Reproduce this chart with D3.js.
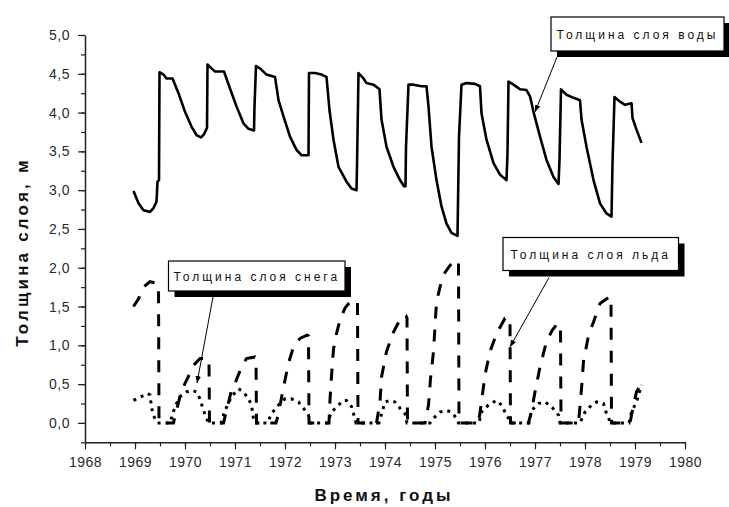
<!DOCTYPE html>
<html><head><meta charset="utf-8">
<script src="https://cdn.jsdelivr.net/npm/d3@7"></script>
<style>
html,body{margin:0;padding:0;background:#fff;}
svg{display:block;}
</style></head>
<body>
<svg id="chart" width="729" height="507"></svg>
<script>
// ---- DATA ----
const xTickYears = [1968,1969,1970,1971,1972,1973,1974,1975,1976,1977,1978,1979,1980];
const yTickValues = [0,0.5,1,1.5,2,2.5,3,3.5,4,4.5,5];
const yTickLabels = ["0,0","0,5","1,0","1,5","2,0","2,5","3,0","3,5","4,0","4,5","5,0"];
const seriesNames = ["Толщина слоя воды","Толщина слоя снега","Толщина слоя льда"];
const xTitle = "Время, годы";
const yTitle = "Толщина слоя, м";

const water = [[1968.97,2.99],[1969.07,2.83],[1969.17,2.74],[1969.30,2.72],[1969.37,2.77],[1969.43,2.85],[1969.45,3.11],[1969.48,3.13],[1969.49,4.52],[1969.57,4.49],[1969.63,4.44],[1969.75,4.44],[1969.87,4.25],[1970.0,4.01],[1970.13,3.82],[1970.23,3.71],[1970.32,3.68],[1970.38,3.72],[1970.43,3.79],[1970.44,3.80],[1970.45,4.62],[1970.53,4.57],[1970.6,4.53],[1970.78,4.53],[1970.9,4.31],[1971.03,4.08],[1971.17,3.86],[1971.27,3.79],[1971.38,3.77],[1971.39,4.08],[1971.42,4.60],[1971.5,4.57],[1971.63,4.49],[1971.8,4.46],[1971.87,4.16],[1971.97,3.95],[1972.1,3.69],[1972.23,3.52],[1972.33,3.45],[1972.47,3.45],[1972.48,4.51],[1972.6,4.51],[1972.73,4.49],[1972.83,4.46],[1972.89,4.03],[1972.97,3.65],[1973.07,3.30],[1973.23,3.11],[1973.33,3.02],[1973.43,3.0],[1973.44,3.30],[1973.47,4.51],[1973.57,4.44],[1973.63,4.38],[1973.77,4.36],[1973.89,4.30],[1973.93,3.91],[1974.03,3.56],[1974.17,3.30],[1974.3,3.13],[1974.38,3.05],[1974.41,3.05],[1974.42,3.56],[1974.47,4.36],[1974.57,4.36],[1974.73,4.34],[1974.83,4.34],[1974.87,4.08],[1974.93,3.56],[1975.03,3.13],[1975.13,2.79],[1975.23,2.57],[1975.33,2.45],[1975.45,2.41],[1975.48,3.69],[1975.53,4.36],[1975.63,4.38],[1975.8,4.37],[1975.9,4.34],[1975.93,3.99],[1976.03,3.65],[1976.17,3.35],[1976.3,3.20],[1976.43,3.13],[1976.45,3.48],[1976.47,4.40],[1976.57,4.36],[1976.7,4.30],[1976.83,4.29],[1976.9,4.21],[1976.97,4.01],[1977.1,3.69],[1977.23,3.39],[1977.37,3.17],[1977.47,3.08],[1977.49,3.39],[1977.52,4.30],[1977.63,4.23],[1977.77,4.19],[1977.9,4.16],[1977.93,3.91],[1978.03,3.56],[1978.17,3.13],[1978.3,2.83],[1978.43,2.70],[1978.53,2.66],[1978.55,3.35],[1978.59,4.20],[1978.7,4.14],[1978.8,4.10],[1978.93,4.12],[1978.95,3.93],[1979.03,3.78],[1979.13,3.61]];

const ice = [[1968.97,1.50],[1969.07,1.60],[1969.17,1.75],[1969.3,1.82],[1969.43,1.80],[1969.47,1.78],[1969.48,0.03],[1969.5,0],[1969.77,0],[1969.83,0.16],[1969.9,0.34],[1970.0,0.51],[1970.1,0.64],[1970.17,0.74],[1970.3,0.83],[1970.45,0.83],[1970.48,0.80],[1970.49,0],[1970.77,0],[1970.83,0.16],[1970.93,0.42],[1971.0,0.51],[1971.13,0.72],[1971.23,0.83],[1971.4,0.85],[1971.42,0.84],[1971.43,0],[1971.82,0],[1971.87,0.12],[1971.97,0.46],[1972.07,0.77],[1972.17,0.98],[1972.3,1.09],[1972.44,1.13],[1972.47,1.12],[1972.48,0],[1972.88,0],[1972.9,0.3],[1972.93,0.6],[1972.97,0.95],[1973.03,1.15],[1973.1,1.33],[1973.2,1.48],[1973.3,1.56],[1973.43,1.58],[1973.45,1.55],[1973.46,0],[1973.83,0],[1973.9,0.27],[1973.93,0.59],[1974.03,0.92],[1974.17,1.17],[1974.33,1.37],[1974.42,1.38],[1974.44,1.35],[1974.45,0],[1974.8,0],[1974.87,0.23],[1974.91,0.57],[1974.97,0.92],[1975.03,1.56],[1975.1,1.75],[1975.17,1.91],[1975.3,2.03],[1975.43,2.10],[1975.47,2.08],[1975.48,0],[1975.87,0],[1975.93,0.27],[1976.0,0.62],[1976.1,0.92],[1976.23,1.15],[1976.4,1.35],[1976.48,1.36],[1976.5,1.32],[1976.51,0],[1976.87,0],[1976.93,0.15],[1977.0,0.40],[1977.1,0.72],[1977.23,1.05],[1977.35,1.2],[1977.45,1.28],[1977.51,1.26],[1977.52,0],[1977.87,0],[1977.93,0.44],[1977.97,0.79],[1978.07,1.13],[1978.17,1.30],[1978.3,1.54],[1978.5,1.63],[1978.52,1.62],[1978.53,0],[1978.9,0],[1978.97,0.23],[1979.03,0.40],[1979.13,0.51]];

const snow = [[1968.97,0.29],[1969.1,0.33],[1969.25,0.38],[1969.3,0.36],[1969.33,0.2],[1969.37,0.10],[1969.42,0.02],[1969.45,0],[1969.7,0],[1969.8,0.21],[1969.9,0.34],[1970.03,0.40],[1970.13,0.42],[1970.23,0.40],[1970.3,0.31],[1970.37,0.16],[1970.45,0.03],[1970.47,0],[1970.72,0],[1970.8,0.16],[1970.93,0.34],[1971.07,0.44],[1971.17,0.40],[1971.27,0.31],[1971.33,0.23],[1971.37,0.05],[1971.4,0],[1971.65,0],[1971.73,0.12],[1971.87,0.23],[1972.0,0.31],[1972.13,0.31],[1972.27,0.27],[1972.37,0.19],[1972.47,0.10],[1972.5,0],[1972.85,0],[1972.93,0.14],[1973.07,0.23],[1973.17,0.29],[1973.23,0.29],[1973.33,0.21],[1973.37,0.12],[1973.42,0],[1973.88,0],[1974.0,0.27],[1974.1,0.29],[1974.2,0.27],[1974.3,0.19],[1974.4,0.12],[1974.44,0],[1974.9,0],[1974.97,0.06],[1975.1,0.14],[1975.23,0.16],[1975.33,0.14],[1975.43,0.06],[1975.47,0],[1975.88,0],[1975.93,0.14],[1976.07,0.23],[1976.23,0.29],[1976.33,0.23],[1976.4,0.14],[1976.47,0.06],[1976.5,0],[1976.88,0],[1976.93,0.16],[1977.07,0.25],[1977.2,0.27],[1977.33,0.21],[1977.47,0.10],[1977.5,0],[1977.9,0],[1978.0,0.14],[1978.13,0.23],[1978.23,0.27],[1978.37,0.25],[1978.43,0.12],[1978.48,0.05],[1978.5,0],[1978.88,0],[1978.93,0.14],[1979.03,0.27],[1979.13,0.49]];

// ---- LAYOUT ----
const svg = d3.select("#chart");
svg.append("rect").attr("width",729).attr("height",507).attr("fill","#fff");
const x = d3.scaleLinear().domain([1968,1980]).range([85,685]);
const y = d3.scaleLinear().domain([-0.25,5]).range([442.3,35]);
const minorX = d3.range(1968,1980.01,0.5);
const minorY = d3.range(-0.25,5.01,0.25);
const fontFam = "'Liberation Sans', Arial, sans-serif";

// minor ticks
svg.append("g").attr("transform",`translate(0,${y(-0.25)})`)
  .call(d3.axisBottom(x).tickValues(minorX).tickSize(4).tickFormat(""))
  .call(g=>g.select(".domain").remove())
  .call(g=>g.selectAll("line").attr("stroke","#222").attr("stroke-width",1.2));
svg.append("g").attr("transform",`translate(${x(1968)},0)`)
  .call(d3.axisLeft(y).tickValues(minorY).tickSize(4).tickFormat(""))
  .call(g=>g.select(".domain").remove())
  .call(g=>g.selectAll("line").attr("stroke","#222").attr("stroke-width",1.2));

// major axes
const xAxis = svg.append("g").attr("transform",`translate(0,${y(-0.25)})`)
  .call(d3.axisBottom(x).tickValues(xTickYears).tickSize(7).tickPadding(8).tickSizeOuter(0).tickFormat(d=>String(d)));
const yAxis = svg.append("g").attr("transform",`translate(${x(1968)},0)`)
  .call(d3.axisLeft(y).tickValues(yTickValues).tickSize(7).tickPadding(8).tickSizeOuter(0)
    .tickFormat((d,i)=>yTickLabels[i]));
[xAxis,yAxis].forEach(g=>{
  g.select(".domain").attr("stroke","#222").attr("stroke-width",1.5);
  g.selectAll(".tick line").attr("stroke","#222").attr("stroke-width",1.2);
  g.selectAll(".tick text").attr("fill","#2a2a2a").style("font-family",fontFam)
    .style("font-size","14px").style("letter-spacing","0.5px");
});

// axis titles
svg.append("text").attr("x",384).attr("y",501).attr("text-anchor","middle")
  .style("font-family",fontFam).style("font-size","17px").style("font-weight","bold")
  .style("letter-spacing","3px").attr("fill","#111").text(xTitle);
svg.append("text").attr("transform","translate(28,252) rotate(-90)").attr("text-anchor","middle")
  .style("font-family",fontFam).style("font-size","17px").style("font-weight","bold")
  .style("letter-spacing","3.2px").attr("fill","#111").text(yTitle);

// lines
const line = d3.line().x(d=>x(d[0])).y(d=>y(d[1]));
svg.append("path").datum(snow).attr("d",line).attr("fill","none").attr("stroke","#000")
  .attr("stroke-width",3).attr("stroke-dasharray","3,5");
svg.append("path").datum(ice).attr("d",line).attr("fill","none").attr("stroke","#000")
  .attr("stroke-width",3).attr("stroke-dasharray","12,11");
svg.append("path").datum(water).attr("d",line).attr("fill","none").attr("stroke","#000")
  .attr("stroke-width",2.6).attr("stroke-linejoin","round");

// callouts
svg.append("defs").append("marker").attr("id","arr").attr("viewBox","0 0 10 10")
  .attr("refX",10).attr("refY",5).attr("markerWidth",7).attr("markerHeight",7)
  .attr("orient","auto").append("path").attr("d","M0,1 L10,5 L0,9 Z").attr("fill","#000");

const callouts = [
  {name:seriesNames[0], box:[551,17,173,34], from:[557,57], to:[535,112]},
  {name:seriesNames[1], box:[168.5,261,176.5,30], from:[213,297], to:[197,383]},
  {name:seriesNames[2], box:[503,237.5,175.5,33], from:[549,277.5], to:[510,347]}
];
callouts.forEach(c=>{
  const [bx,by,bw,bh] = c.box;
  svg.append("line").attr("x1",c.from[0]).attr("y1",c.from[1]).attr("x2",c.to[0]).attr("y2",c.to[1])
    .attr("stroke","#000").attr("stroke-width",1).attr("marker-end","url(#arr)");
  svg.append("rect").attr("x",bx+6).attr("y",by+6).attr("width",bw).attr("height",bh).attr("fill","#000");
  svg.append("rect").attr("x",bx).attr("y",by).attr("width",bw).attr("height",bh)
    .attr("fill","#fff").attr("stroke","#000").attr("stroke-width",1.2);
  svg.append("text").attr("x",bx+bw/2).attr("y",by+bh/2+4.5).attr("text-anchor","middle")
    .style("font-family",fontFam).style("font-size","12px").style("letter-spacing","3px")
    .attr("fill","#111").text(c.name);
});
</script>
</body></html>
